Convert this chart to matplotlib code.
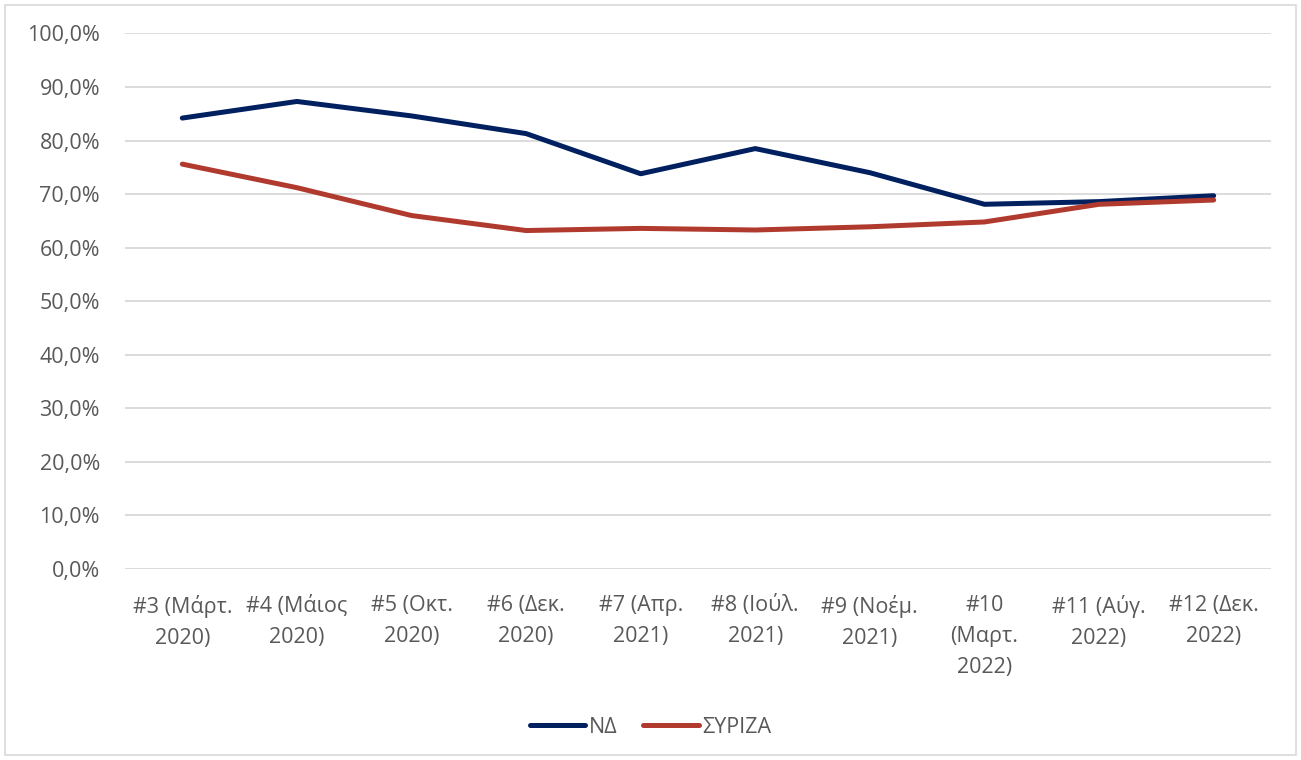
import matplotlib.pyplot as plt
from matplotlib.patches import Rectangle
from matplotlib.ticker import FuncFormatter

labels = [
    "#3 (Μάρτ.\n2020)", "#4 (Μάιος\n2020)", "#5 (Οκτ.\n2020)", "#6 (Δεκ.\n2020)",
    "#7 (Απρ.\n2021)", "#8 (Ιούλ.\n2021)", "#9 (Νοέμ.\n2021)", "#10\n(Μαρτ.\n2022)",
    "#11 (Αύγ.\n2022)", "#12 (Δεκ.\n2022)",
]
nd = [84.2, 87.3, 84.6, 81.3, 73.8, 78.5, 74.0, 68.1, 68.6, 69.7]
syriza = [75.6, 71.2, 66.0, 63.2, 63.6, 63.3, 63.9, 64.8, 68.1, 68.9]

plt.rcParams['font.family'] = ['Open Sans', 'DejaVu Sans']
text_color = "#595959"
fs = 15.5

fig = plt.figure(figsize=(13.01, 7.6), dpi=100)
ax = fig.add_axes([0.0961, 0.2513, 0.8808, 0.7047])

x = list(range(len(labels)))
ax.plot(x, nd, color="#002060", lw=3.6, label="ΝΔ", solid_capstyle="round", solid_joinstyle="round")
ax.plot(x, syriza, color="#B03A2E", lw=3.6, label="ΣΥΡΙΖΑ", solid_capstyle="round", solid_joinstyle="round")

ax.set_xlim(-0.5, len(labels) - 0.5)
ax.set_ylim(0, 100)
ax.set_yticks(range(0, 101, 10))
ax.yaxis.set_major_formatter(FuncFormatter(lambda v, p: f"{v:.1f}%".replace(".", ",")))
ax.set_xticks(x)
ax.set_xticklabels(labels, fontsize=fs, color=text_color, linespacing=1.6)
ax.tick_params(axis="y", labelsize=fs, labelcolor=text_color, length=0, pad=18)
ax.tick_params(axis="x", length=0, pad=19)

ax.grid(axis="y", color="#D9D9D9", lw=1.3)
ax.set_axisbelow(True)
for s in ax.spines.values():
    s.set_visible(False)

leg = fig.legend(loc="center", bbox_to_anchor=(0.5, 0.043), ncol=2, frameon=False,
                 fontsize=fs, handlelength=2.6, handletextpad=0.15, columnspacing=1.2)
for t in leg.get_texts():
    t.set_color(text_color)

fig.patches.append(Rectangle((0.004, 0.006), 0.992, 0.988, transform=fig.transFigure,
                             fill=False, edgecolor="#D9D9D9", lw=1.2))

fig.savefig("out.png", dpi=100)
